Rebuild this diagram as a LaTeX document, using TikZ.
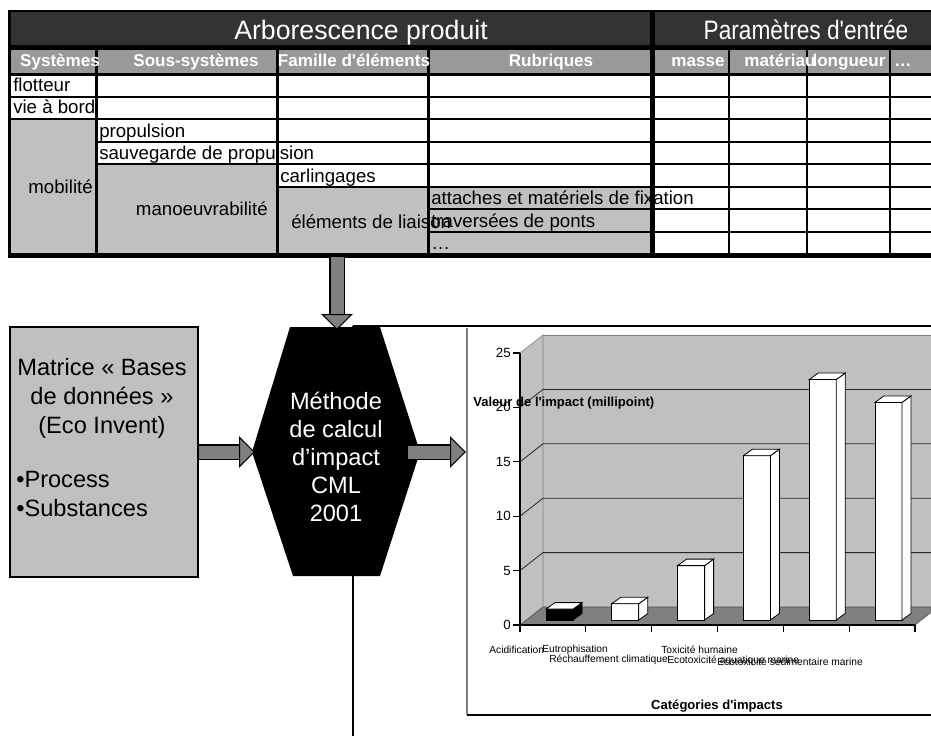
\documentclass[tikz,border=0pt]{standalone}
\usepackage{fontspec}
\setmainfont{Liberation Sans}[Ligatures=TeXOff]
\usetikzlibrary{arrows.meta}
\definecolor{hdrdark}{HTML}{333333}
\definecolor{hdrgray}{HTML}{999999}
\definecolor{cellgray}{HTML}{C0C0C0}
\definecolor{arrowgray}{HTML}{808080}

\begin{document}
\begin{tikzpicture}[x=0.75pt, y=-0.75pt,
   txt/.style={inner sep=0pt, font=\fontsize{14}{17}\selectfont},
   colhead/.style={inner sep=0pt, anchor=base, text=white, font=\bfseries\fontsize{12.8}{15}\selectfont},
   bighead/.style={inner sep=0pt, anchor=base, text=white, font=\fontsize{20}{24}\selectfont},
   bigtxt/.style={inner sep=0pt, font=\fontsize{17.7}{21.75}\selectfont},
   fatarrow/.style={draw=arrowgray, line width=9.75pt,
      -{Triangle[width=23.5pt 0 0, length=12pt 0 0, color=black, fill=arrowgray, line width'=0.8pt]},
      preaction={draw=black, -, line width=11.3pt, shorten >=11pt}},
   axlbl/.style={inner sep=0pt, anchor=east, font=\fontsize{10}{12}\selectfont},
   catlbl/.style={inner sep=0pt, anchor=base west, font=\fontsize{7.7}{9}\selectfont},
   ttl/.style={inner sep=0pt, font=\bfseries\fontsize{9.8}{12}\selectfont}]
   \useasboundingbox (0,0) rectangle (931,735);

   % Table grid
   \fill[black] (8,10) rectangle (940,258);
   \fill[hdrdark] (11,12) rectangle (650,45);
   \fill[hdrdark] (654.5,12) rectangle (940,45);
   \foreach \l/\r in {11/94.5, 97.5/275.5, 278.5/426.5, 429.5/650, 654.5/728, 730/806, 808/889, 891/940}
      \fill[hdrgray] (\l,50) rectangle (\r,73);
   \foreach \l/\r in {654.5/728, 730/806, 808/889, 891/940}
      \foreach \t/\b in {76/95.5, 97.5/117.5, 119.5/141, 143/163, 165/186, 188/208, 210/231, 233/253}
         \fill[white] (\l,\t) rectangle (\r,\b);
   \foreach \t/\b in {76/95.5, 97.5/117.5}
      \fill[white] (11,\t) rectangle (94.5,\b);
   \foreach \t/\b in {76/95.5, 97.5/117.5, 119.5/141, 143/163}
      \fill[white] (97.5,\t) rectangle (275.5,\b);
   \foreach \t/\b in {76/95.5, 97.5/117.5, 119.5/141, 143/163, 165/186} {
      \fill[white] (278.5,\t) rectangle (426.5,\b);
      \fill[white] (429.5,\t) rectangle (650,\b);
   }
   % Merged grey cells
   \fill[cellgray] (11,119.5) rectangle (94.5,253);
   \fill[cellgray] (97.5,165) rectangle (275.5,253);
   \fill[cellgray] (278.5,188) rectangle (426.5,253);
   \foreach \t/\b in {188/208, 210/231, 233/253}
      \fill[cellgray] (429.5,\t) rectangle (650,\b);

   % Headings
   \node[bighead] (arbo) at (361,40) {Arborescence produit};
   \node[bighead] (param) at (806,40) {\scalebox{0.85}[1]{Paramètres d'entrée}};
   \node[colhead] (hsys) at (60,67) {Systèmes};
   \node[colhead] (hsous) at (196,67) {Sous-systèmes};
   \node[colhead] (hfam) at (354,67) {Famille d'éléments};
   \node[colhead] (hrub) at (551,67) {Rubriques};
   \node[colhead] (hmasse) at (698,67) {masse};
   \node[colhead] (hmat) at (780,67) {matériau};
   \node[colhead] (hlong) at (849,67) {longueur};
   \node[colhead] (hdots) at (903,67) {…};

   % Cell texts
   \node[txt, anchor=base west] (flotteur) at (13,92) {flotteur};
   \node[txt, anchor=base west] (vie) at (13,113.5) {vie à bord};
   \node[txt, anchor=base west] (propulsion) at (99,137.5) {propulsion};
   \node[txt, anchor=base west] (sauvegarde) at (99,159.5) {sauvegarde de propulsion};
   \node[txt, anchor=base west] (carlingages) at (280,182.5) {carlingages};
   \node[txt, anchor=base west] (attaches) at (431,204.5) {attaches et matériels de fixation};
   \node[txt, anchor=base west] (traversees) at (431,227) {traversées de ponts};
   \node[txt, anchor=base west] (autres) at (431,249.5) {…};
   \node[txt, anchor=base east] (mobilite) at (93,193) {mobilité};
   \node[txt, anchor=base east] (manoeuvre) at (268,215) {manoeuvrabilité};
   \node[txt, anchor=base west] (liaison) at (291,228) {éléments de liaison};

   % Frame of the chart object
   \draw[line width=1pt] (353,326) -- (940,326);
   \draw[line width=1pt] (353,326) -- (353,740);

   % Data base box
   \node[draw=black, line width=1pt, fill=cellgray, minimum width=141pt, minimum height=187.5pt, inner sep=0pt] (base) at (104,452) {};
   \node[bigtxt, anchor=north, align=center] (basettl) at (102,358) {Matrice « Bases\\de données »\\(Eco Invent)};
   \node[bigtxt, anchor=north west, align=left] (baselst) at (16,471) {•Process\\•Substances};

   % Method hexagon
   \fill[black] (290,327) -- (380,327) -- (420,452) -- (380,576) -- (293,576) -- (252,452) -- cycle;
   \node[bigtxt, font=\fontsize{17.7}{21}\selectfont, text=white, align=center] (cml) at (336,457) {Méthode\\de calcul\\d’impact\\CML\\2001};

   % Block arrows
   \coordinate (tabbot) at (337,257);
   \coordinate (hexN) at (337,330);
   \coordinate (hexW) at (255,452);
   \coordinate (hexE) at (408,452);
   \coordinate (chartW) at (466,452);
   \draw[fatarrow] (tabbot) -- (hexN);
   \draw[fatarrow] (base.east) -- (hexW);
   \draw[fatarrow] (hexE) -- (chartW);

   % Chart frame
   \draw[arrowgray, line width=1pt] (467,328) -- (467,715);
   \draw[line width=1pt] (467,715) -- (940,715);

   % Walls and floor
   \fill[cellgray] (543,335) rectangle (940,607);
   \filldraw[fill=cellgray, draw=arrowgray] (520,625) -- (520,353) -- (543,335) -- (543,607) -- cycle;
   \draw[arrowgray] (543,335) -- (940,335);
   \foreach \v in {5,10,15,20}
      \draw[black!85, line width=0.6pt] (520,{625-10.88*\v}) -- (543,{607-10.88*\v}) -- (940,{607-10.88*\v});
   \filldraw[fill=arrowgray, draw=black!70] (520,625) -- (543,607) -- (938,607) -- (915,625) -- cycle;

   % Axes
   \draw[line width=0.8pt] (520,353) -- (520,625) -- (915,625);
   \foreach \v in {0,5,...,25} {
      \draw[line width=0.8pt] (513,{625-10.88*\v}) -- (520,{625-10.88*\v});
      \node[axlbl] (y\v) at (511,{625-10.88*\v}) {\v};
   }
   \foreach \k in {0,...,6}
      \draw[line width=0.8pt] ({520+65.83*\k},625) -- ({520+65.83*\k},632);

   % Bars
   \foreach \i/\v/\barcol in {0/1.0/black, 1/1.5/white, 2/5.0/white, 3/15.1/white, 4/22.1/white, 5/20.0/white} {
      \pgfmathsetmacro\bx{546+65.8*\i}
      \pgfmathsetmacro\bt{620-10.88*\v}
      \filldraw[fill=\barcol, line width=0.6pt] (\bx,620) rectangle (\bx+27,\bt);
      \filldraw[fill=\barcol, line width=0.6pt] (\bx+27,620) -- (\bx+36,613.5) -- (\bx+36,\bt-6.5) -- (\bx+27,\bt) -- cycle;
      \filldraw[fill=white, line width=0.6pt] (\bx,\bt) -- (\bx+9,\bt-6.5) -- (\bx+36,\bt-6.5) -- (\bx+27,\bt) -- cycle;
   }

   % Chart texts
   \node[ttl, anchor=base west] (ytitle) at (473,406) {Valeur de l'impact (millipoint)};
   \node[ttl, anchor=base] (xtitle) at (717,709) {Catégories d'impacts};
   \node[catlbl] (acid) at (489,653) {Acidification};
   \node[catlbl] (eutro) at (542,652) {Eutrophisation};
   \node[catlbl] (rechauf) at (549,662) {Réchauffement climatique};
   \node[catlbl] (toxh) at (661,653) {Toxicité humaine};
   \node[catlbl] (ecoaq) at (667,663) {Ecotoxicité aquatique marine};
   \node[catlbl] (ecosed) at (717,665) {Ecotoxicité sédimentaire marine};
\end{tikzpicture}
\end{document}
